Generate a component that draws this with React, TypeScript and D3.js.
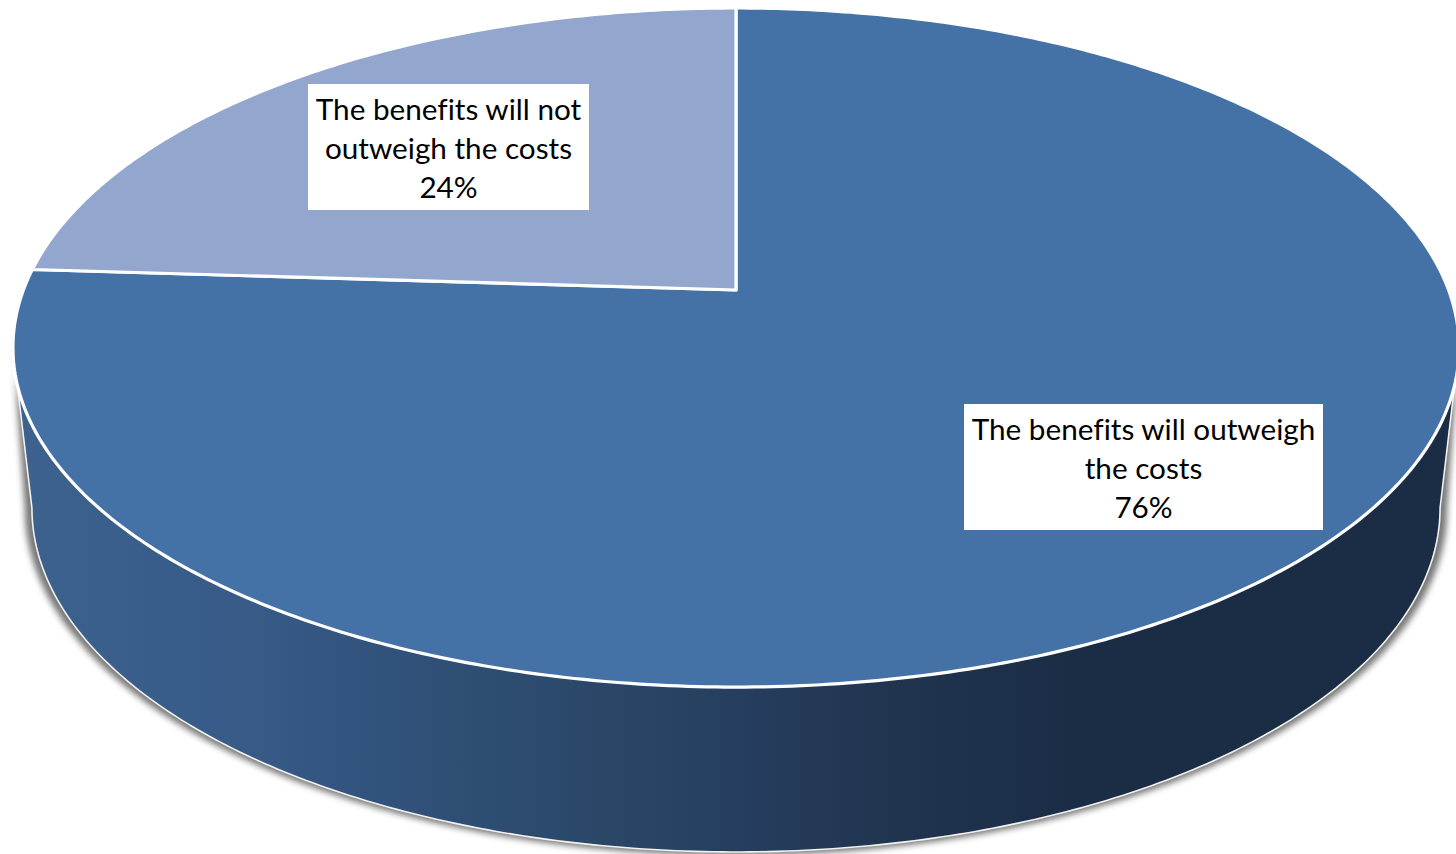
import React from "react";
import * as d3 from "d3";

// Survey responses, in percent, clockwise from twelve o'clock.
const categories = ["The benefits will outweigh the costs", "The benefits will not outweigh the costs"];
const shares = [76, 24];
const labelLines = [
  ["The benefits will outweigh", "the costs", "76%"],
  ["The benefits will not", "outweigh the costs", "24%"],
];
const sliceColors = ["#4471a6", "#93a7ce"];

const WIDTH = 1456;
const HEIGHT = 854;
const FONT = "Lato, Carlito, Calibri, sans-serif";

// The disc lies on a tilted plane: a unit circle is carried to the screen by a
// perspective map, so its centre sits above the middle of the drawn ellipse.
type Plane = { cx: number; cy: number; a: number; b: number; k: number };
const TILT = 0.1694;
const topPlane: Plane = { cx: 736, cy: 290, a: 712.6, b: 329.8, k: TILT };
const basePlane: Plane = { cx: 736, cy: 449.7, a: 693.9, b: 334.1, k: TILT };
const shadowPlane: Plane = { cx: 736, cy: 450.7, a: 700.9, b: 336.1, k: TILT };

const project = (p: Plane, theta: number): [number, number] => {
  const u = Math.sin(theta);
  const v = Math.cos(theta);
  const w = 1 + p.k * v;
  return [p.cx + (p.a * u) / w, p.cy - (p.b * v) / w];
};

const arcPoints = (p: Plane, from: number, to: number): [number, number][] => {
  const steps = Math.max(2, Math.ceil(Math.abs(to - from) * 90));
  return d3.range(steps + 1).map((i) => project(p, from + ((to - from) * i) / steps));
};

const linePath = d3.line<[number, number]>().curve(d3.curveLinear);

const pieSlices = d3
  .pie<number>()
  .sort(null)
  .value((d) => d)(shares);

// Silhouette tangents: where the wall leaves the disc on either side.
const tangent = Math.acos(-TILT);
const wallFrom = tangent;
const wallTo = 2 * Math.PI - tangent;

const wallPath =
  linePath([...arcPoints(topPlane, wallFrom, wallTo), ...arcPoints(basePlane, wallTo, wallFrom)]) + "Z";
const shadowPath =
  linePath([...arcPoints(topPlane, wallFrom, wallTo), ...arcPoints(shadowPlane, wallTo, wallFrom)]) + "Z";
const baseEdge = linePath(arcPoints(basePlane, wallFrom, wallTo)) ?? "";
const leftEdge = linePath([project(topPlane, wallTo), project(basePlane, wallTo)]) ?? "";
const rightEdge = linePath([project(topPlane, wallFrom), project(basePlane, wallFrom)]) ?? "";

const sliceBoxes = [
  { x: 964, y: 404, w: 359, h: 126 },
  { x: 308, y: 84, w: 281, h: 126 },
];

// Wall shading, lit from the left and falling to a flat dark tone on the right.
const wallStops: [number, string][] = [
  [0, "#3d628e"],
  [0.22, "#375a87"],
  [0.31, "#32547e"],
  [0.55, "#2a4768"],
  [0.67, "#263f5e"],
  [0.83, "#20344f"],
  [1, "#1b2d45"],
];

export default function App() {
  return (
    <svg
      width={WIDTH}
      height={HEIGHT}
      viewBox={`0 0 ${WIDTH} ${HEIGHT}`}
      style={{ position: "fixed", left: 0, top: 0, display: "block", background: "#fff" }}
    >
      <defs>
        <linearGradient id="wall" gradientUnits="userSpaceOnUse" x1={20} x2={1080} y1={0} y2={0}>
          {wallStops.map(([offset, color]) => (
            <stop key={offset} offset={offset} stopColor={color} />
          ))}
        </linearGradient>
        <filter id="soft" x="-5%" y="-5%" width="110%" height="110%">
          <feGaussianBlur stdDeviation="3" />
        </filter>
      </defs>

      <path d={shadowPath} fill="#555" opacity={0.8} filter="url(#soft)" />
      <path d={wallPath} fill="url(#wall)" />
      <path d={baseEdge} fill="none" stroke="#f2f2f2" strokeWidth={1.6} />
      <path d={leftEdge} fill="none" stroke="#f2f2f2" strokeWidth={1.6} />
      <path d={rightEdge} fill="none" stroke="#f2f2f2" strokeWidth={1.6} />

      {pieSlices.map((s, i) => (
        <path
          key={categories[i]}
          d={linePath([[topPlane.cx, topPlane.cy], ...arcPoints(topPlane, s.startAngle, s.endAngle)]) + "Z"}
          fill={sliceColors[i]}
          stroke="#fff"
          strokeWidth={3.2}
          strokeLinejoin="round"
        />
      ))}

      {pieSlices.map((_, i) => {
        const box = sliceBoxes[i];
        const mid = box.x + box.w / 2;
        return (
          <g key={`label-${categories[i]}`}>
            <rect x={box.x} y={box.y} width={box.w} height={box.h} fill="#fff" />
            {labelLines[i].map((line, j) => (
              <text
                key={line}
                x={mid}
                y={box.y + 36 + j * 39}
                textAnchor="middle"
                fontFamily={FONT}
                fontSize={29.7}
                fill="#000"
                style={{ fontVariantLigatures: "none" }}
              >
                {line}
              </text>
            ))}
          </g>
        );
      })}
    </svg>
  );
}
